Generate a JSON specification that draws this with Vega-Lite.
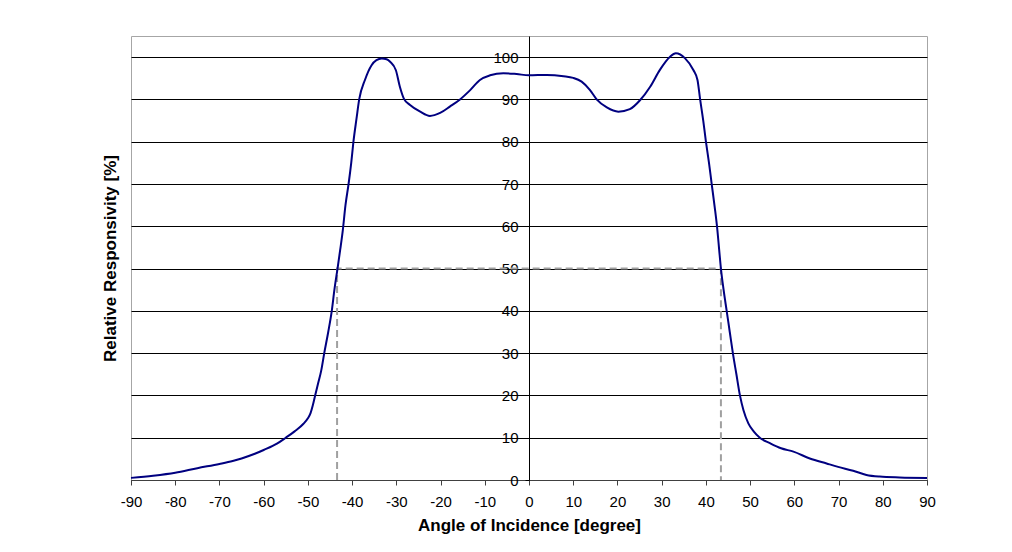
{
  "$schema": "https://vega.github.io/schema/vega-lite/v6.json",
  "width": 796,
  "height": 444,
  "autosize": {"type": "none"},
  "padding": {"left": 131, "top": 36, "right": 85, "bottom": 72},
  "background": "white",
  "config": {
    "view": {"stroke": "#a6a6a6", "strokeWidth": 1},
    "font": "Liberation Sans"
  },
  "datasets": {
    "curve": [
      {"angle": -90, "resp": 0.5}, {"angle": -85, "resp": 1.0}, {"angle": -80, "resp": 1.7},
      {"angle": -75, "resp": 2.8}, {"angle": -70, "resp": 3.8}, {"angle": -67, "resp": 4.5},
      {"angle": -65, "resp": 5.1}, {"angle": -62, "resp": 6.2}, {"angle": -60, "resp": 7.1},
      {"angle": -57, "resp": 8.6}, {"angle": -55, "resp": 10.0}, {"angle": -53, "resp": 11.5},
      {"angle": -51, "resp": 13.3}, {"angle": -50, "resp": 14.6}, {"angle": -49.4, "resp": 15.8},
      {"angle": -48.9, "resp": 17.6}, {"angle": -48.4, "resp": 19.8}, {"angle": -47.7, "resp": 22.8},
      {"angle": -47, "resp": 25.8},
      {"angle": -46.3, "resp": 30}, {"angle": -45.4, "resp": 35}, {"angle": -44.6, "resp": 40},
      {"angle": -44, "resp": 45}, {"angle": -43.3, "resp": 50}, {"angle": -42.7, "resp": 54.4},
      {"angle": -42.1, "resp": 59.1}, {"angle": -41.5, "resp": 65}, {"angle": -40.8, "resp": 70},
      {"angle": -40.2, "resp": 75}, {"angle": -39.7, "resp": 80}, {"angle": -39, "resp": 85.5},
      {"angle": -38.4, "resp": 90}, {"angle": -37.1, "resp": 94.6}, {"angle": -35.6, "resp": 98.1},
      {"angle": -34.5, "resp": 99.3}, {"angle": -33.3, "resp": 99.7}, {"angle": -32.2, "resp": 99.5},
      {"angle": -31.4, "resp": 98.9}, {"angle": -30.1, "resp": 96.9}, {"angle": -29.2, "resp": 93.0},
      {"angle": -28.3, "resp": 90.2}, {"angle": -26.9, "resp": 88.7}, {"angle": -24.6, "resp": 87.1},
      {"angle": -22.4, "resp": 86.1}, {"angle": -20.1, "resp": 86.8}, {"angle": -17.9, "resp": 88.3},
      {"angle": -15.6, "resp": 90.0}, {"angle": -13.3, "resp": 92.2}, {"angle": -11.1, "resp": 94.6},
      {"angle": -8.8, "resp": 95.7}, {"angle": -5.8, "resp": 96.2}, {"angle": -2.8, "resp": 96.0},
      {"angle": 0, "resp": 95.7}, {"angle": 4, "resp": 95.8}, {"angle": 7.8, "resp": 95.5},
      {"angle": 10, "resp": 95.1}, {"angle": 11.9, "resp": 94.2}, {"angle": 13.8, "resp": 92.2},
      {"angle": 15.3, "resp": 90.0}, {"angle": 17.6, "resp": 88.1}, {"angle": 20.2, "resp": 87.1},
      {"angle": 22.8, "resp": 87.7}, {"angle": 25.1, "resp": 89.8}, {"angle": 27.4, "resp": 93.0},
      {"angle": 29.6, "resp": 97.0}, {"angle": 31.9, "resp": 100.1}, {"angle": 33.2, "resp": 100.9},
      {"angle": 35.3, "resp": 99.7}, {"angle": 37.2, "resp": 96.9}, {"angle": 38.1, "resp": 94.6},
      {"angle": 38.7, "resp": 90.0}, {"angle": 39.4, "resp": 85}, {"angle": 40.0, "resp": 80.1},
      {"angle": 40.7, "resp": 75}, {"angle": 41.3, "resp": 70.1}, {"angle": 42, "resp": 64.5},
      {"angle": 42.6, "resp": 59.1}, {"angle": 43.0, "resp": 54.5}, {"angle": 43.4, "resp": 50},
      {"angle": 44.0, "resp": 45}, {"angle": 44.7, "resp": 40}, {"angle": 45.4, "resp": 35},
      {"angle": 46.1, "resp": 30}, {"angle": 46.9, "resp": 25}, {"angle": 47.7, "resp": 20},
      {"angle": 48.5, "resp": 16.5}, {"angle": 49.6, "resp": 13.4}, {"angle": 50.8, "resp": 11.5},
      {"angle": 52.2, "resp": 10}, {"angle": 54.5, "resp": 8.7}, {"angle": 57, "resp": 7.5},
      {"angle": 59.8, "resp": 6.7}, {"angle": 63.5, "resp": 5.1}, {"angle": 67.3, "resp": 3.9},
      {"angle": 69.9, "resp": 3.1}, {"angle": 73.3, "resp": 2.2}, {"angle": 76.3, "resp": 1.2},
      {"angle": 79.3, "resp": 0.8}, {"angle": 83.8, "resp": 0.6}, {"angle": 90, "resp": 0.5}
    ],
    "fwhm": [
      {"seq": 1, "angle": -43.4, "resp": 0},
      {"seq": 2, "angle": -43.4, "resp": 50},
      {"seq": 3, "angle": 43.4, "resp": 50},
      {"seq": 4, "angle": 43.4, "resp": 0}
    ]
  },
  "layer": [
    {
      "data": {"name": "fwhm"},
      "mark": {"type": "line", "color": "#a0a0a0", "strokeWidth": 2, "strokeDash": [7, 4]},
      "encoding": {
        "x": {"field": "angle", "type": "quantitative"},
        "y": {"field": "resp", "type": "quantitative"},
        "order": {"field": "seq", "type": "quantitative"}
      }
    },
    {
      "data": {"name": "curve"},
      "mark": {"type": "line", "color": "#000080", "strokeWidth": 2, "interpolate": "monotone"},
      "encoding": {
        "x": {
          "field": "angle",
          "type": "quantitative",
          "scale": {"domain": [-90, 90], "nice": false},
          "axis": {
            "title": "Angle of Incidence [degree]",
            "values": [-90, -80, -70, -60, -50, -40, -30, -20, -10, 0, 10, 20, 30, 40, 50, 60, 70, 80, 90],
            "labelExpr": "'' + datum.value",
            "grid": false,
            "domainColor": "#404040",
            "tickColor": "#404040",
            "tickSize": 5,
            "labelFontSize": 15,
            "labelColor": "black",
            "labelPadding": 9,
            "labelFlush": false,
            "titleFontSize": 17,
            "titleFontWeight": "bold",
            "titleColor": "black",
            "titleY": 45,
            "titleBaseline": "middle"
          }
        },
        "y": {
          "field": "resp",
          "type": "quantitative",
          "scale": {"domain": [0, 105], "nice": false},
          "axis": {
            "title": "Relative Responsivity [%]",
            "values": [0, 10, 20, 30, 40, 50, 60, 70, 80, 90, 100],
            "offset": -398,
            "domainColor": "black",
            "tickColor": "black",
            "tickSize": 4,
            "labelPadding": 7,
            "labelFontSize": 15,
            "labelColor": "black",
            "grid": true,
            "gridColor": "black",
            "gridOpacity": 1,
            "titleX": -419,
            "titleY": 222,
            "titleAngle": -90,
            "titleBaseline": "middle",
            "titleAlign": "center",
            "titleFontSize": 17,
            "titleFontWeight": "bold",
            "titleColor": "black"
          }
        }
      }
    }
  ]
}
